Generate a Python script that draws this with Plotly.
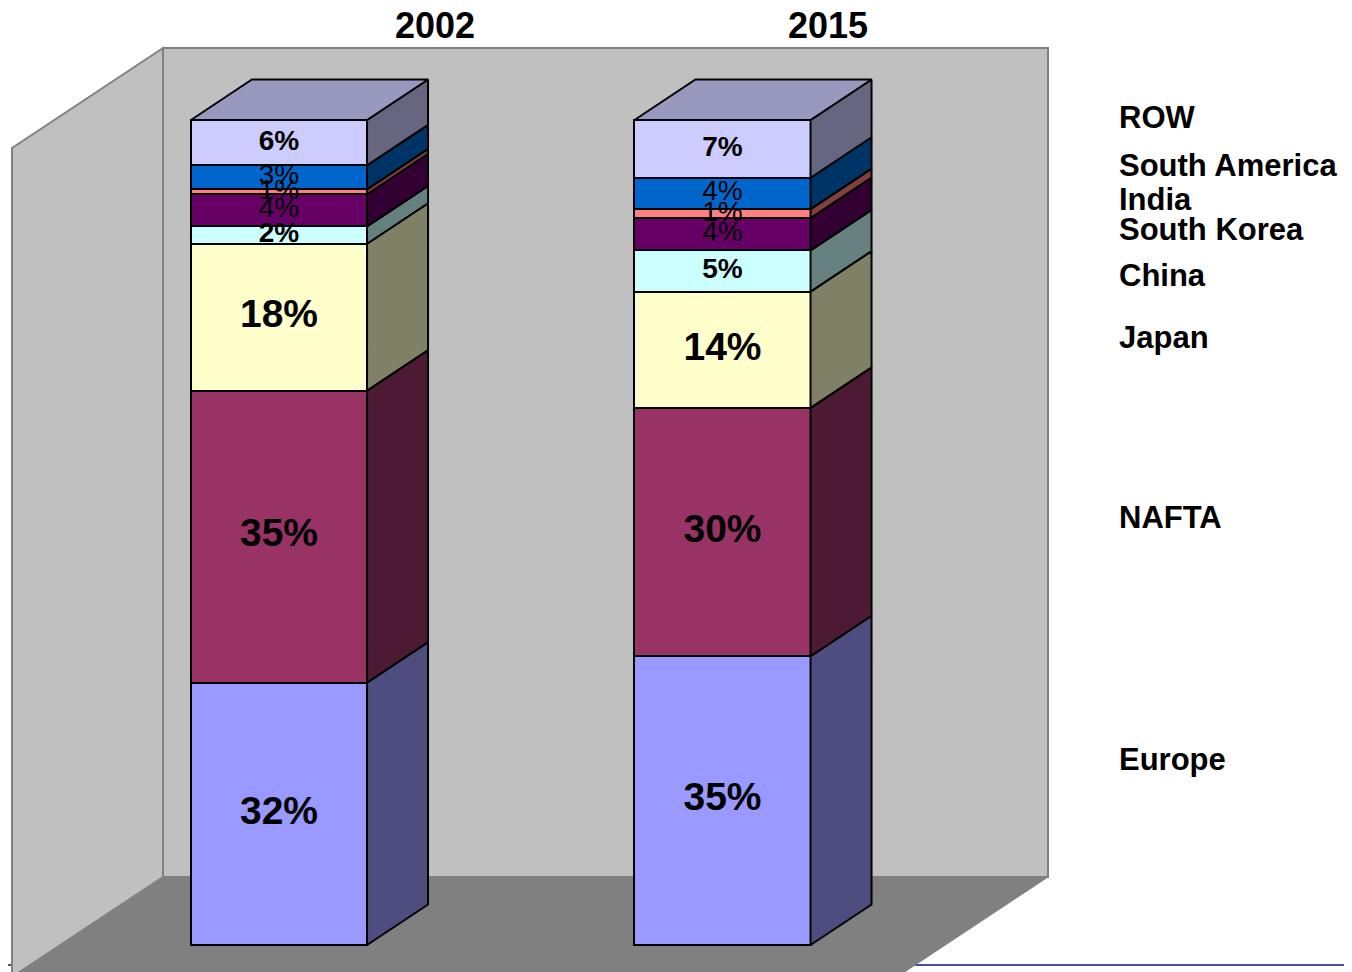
import plotly.graph_objects as go
import numpy as np

# ---------------- data ----------------
years = ["2002", "2015"]
regions = ["Europe", "NAFTA", "Japan", "China", "South Korea", "India", "South America", "ROW"]
share_2002 = [31.8, 35.4, 17.8, 2.1, 3.9, 0.6, 2.9, 5.5]
share_2015 = [35.0, 30.1, 14.1, 5.0, 3.9, 1.1, 3.8, 7.0]
labels_2002 = ["32%", "35%", "18%", "2%", "4%", "1%", "3%", "6%"]
labels_2015 = ["35%", "30%", "14%", "5%", "4%", "1%", "4%", "7%"]

# ---------------- styles ----------------
front_colors = ["#9999FF", "#993366", "#FFFFCC", "#CCFFFF", "#660066", "#FF8080", "#0066CC", "#CCCCFF"]
side_colors = ["#4D4D80", "#4D1A33", "#808066", "#668080", "#330033", "#804040", "#003366", "#666680"]
top_color = "#9999C0"
label_size = [39, 39, 39, 28, 28, 28, 28, 28]
label_bold = [True, True, True, True, False, False, False, True]
legend_py = [759, 517, 337, 275, 229, 199, 166, 117]   # pixel rows of the legend texts
title_px = [435, 828]

W, H = 1352, 972
OFF = 8  # page body margin
FONT = "Liberation Sans, Arial, sans-serif"

# axis geometry: bar positions 0 and 1, y in percent
bar_w = 0.397
XS, X0 = 443.5, 279.0     # px per unit, px of bar 0 centre
YS, Y0 = 8.25, 945.0      # px per percent, px of baseline
x_rng = [(OFF - X0) / XS, (OFF + W - X0) / XS]
y_rng = [(Y0 - OFF - H) / YS, (Y0 - OFF) / YS]
dx, dy = 61 / XS, 40.5 / YS


def px(x):
    return (x - OFF) / W


def py(y):
    return 1 - (y - OFF) / H


fig = go.Figure()

series = [share_2002, share_2015]

# front faces
for i, r in enumerate(regions):
    fig.add_trace(go.Bar(
        x=[0, 1], y=[share_2002[i], share_2015[i]], width=bar_w,
        marker=dict(color=front_colors[i], line=dict(color="black", width=2)),
        name=r, showlegend=False, hoverinfo="skip"))

# side and top faces
for j in range(2):
    vals = np.array(series[j])
    tops = np.cumsum(vals)
    bases = tops - vals
    xr = j + bar_w / 2
    xl = j - bar_w / 2
    for i in range(len(regions)):
        b, t = bases[i], tops[i]
        fig.add_trace(go.Scatter(
            x=[xr, xr + dx, xr + dx, xr, xr], y=[b, b + dy, t + dy, t, b],
            mode="lines", fill="toself", fillcolor=side_colors[i],
            line=dict(color="black", width=2), showlegend=False, hoverinfo="skip"))
    T = tops[-1]
    fig.add_trace(go.Scatter(
        x=[xl, xl + dx, xr + dx, xr, xl], y=[T, T + dy, T + dy, T, T],
        mode="lines", fill="toself", fillcolor=top_color,
        line=dict(color="black", width=2), showlegend=False, hoverinfo="skip"))

# value labels
for i in range(len(regions)):
    ys = []
    for j in range(2):
        vals = np.array(series[j])
        tops = np.cumsum(vals)
        ys.append(tops[i] - vals[i] / 2)
    fig.add_trace(go.Scatter(
        x=[0, 1], y=ys, mode="text",
        text=[labels_2002[i], labels_2015[i]], textposition="middle center",
        textfont=dict(family=FONT, size=label_size[i], color="black",
                      weight="bold" if label_bold[i] else "normal"),
        showlegend=False, hoverinfo="skip"))

# walls / floor
shapes = [
    dict(type="line", xref="paper", yref="paper", x0=px(0), x1=px(1360), y0=py(965), y1=py(965),
         line=dict(color="#4B4BA8", width=2), layer="below"),
    dict(type="path", xref="paper", yref="paper",
         path=f"M {px(163)} {py(48)} L {px(1048)} {py(48)} L {px(1048)} {py(877)} L {px(163)} {py(877)} Z",
         fillcolor="#C0C0C0", line=dict(color="#808080", width=2), layer="below"),
    dict(type="path", xref="paper", yref="paper",
         path=f"M {px(12)} {py(148)} L {px(163)} {py(48)} L {px(163)} {py(877)} L {px(12)} {py(977)} Z",
         fillcolor="#C0C0C0", line=dict(color="#808080", width=2), layer="below"),
    dict(type="path", xref="paper", yref="paper",
         path=f"M {px(163)} {py(877)} L {px(1048)} {py(877)} L {px(897)} {py(977)} L {px(12)} {py(977)} Z",
         fillcolor="#808080", line=dict(color="#808080", width=1), layer="below"),
]

annotations = []
for yr, x in zip(years, title_px):
    annotations.append(dict(text=yr, x=px(x), y=py(25), xref="paper", yref="paper",
                            xanchor="center", yanchor="middle", showarrow=False,
                            font=dict(family=FONT, size=36, color="black", weight="bold")))
for r, yy in zip(regions, legend_py):
    annotations.append(dict(text=r, x=px(1117), y=py(yy), xref="paper", yref="paper",
                            xanchor="left", yanchor="middle", showarrow=False,
                            font=dict(family=FONT, size=31, color="black", weight="bold")))

fig.update_layout(
    width=W, height=H, barmode="stack", bargap=0,
    margin=dict(l=0, r=0, t=0, b=0),
    paper_bgcolor="white", plot_bgcolor="rgba(0,0,0,0)",
    xaxis=dict(range=x_rng, visible=False, fixedrange=True),
    yaxis=dict(range=y_rng, visible=False, fixedrange=True),
    shapes=shapes, annotations=annotations, showlegend=False,
)

fig.write_html("out.html")
